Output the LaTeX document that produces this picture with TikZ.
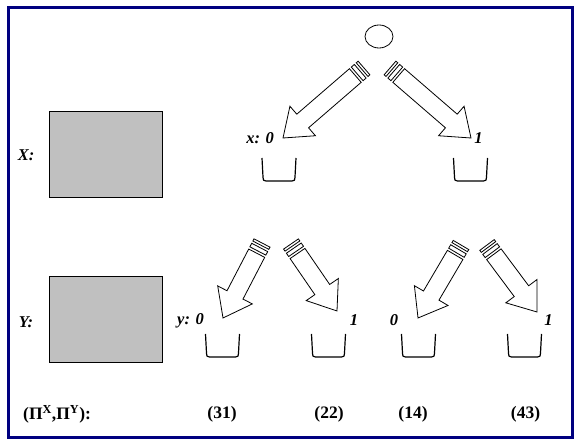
\documentclass[tikz,border=0pt]{standalone}
\usepackage{fontspec}
\setmainfont{Liberation Serif}
\usetikzlibrary{calc,shapes.geometric}

\definecolor{framenavy}{RGB}{0,0,128}
\definecolor{boxgray}{RGB}{192,192,192}

% striped block arrow from tail #1 to tip #2
\newcommand\stripearrow[2]{%
	\path let \p1=($(#2)-(#1)$) in \pgfextra{%
		\pgfmathsetmacro\arrang{atan2(\y1,\x1)}%
		\pgfmathsetmacro\arrlen{veclen(\x1,\y1)}%
		\global\let\arrang\arrang
		\global\let\arrlen\arrlen};
	\begin{scope}[shift={(#1)},rotate=\arrang]
		\draw[arrowline] (0,-\bw) rectangle (2.5,\bw);
		\draw[arrowline] (5,-\bw) rectangle (9,\bw);
		\draw[arrowline] (11.5,-\bw) -- ({\arrlen-\hl},-\bw) -- ({\arrlen-\hl},-\hw)
			-- (\arrlen,0) -- ({\arrlen-\hl},\hw) -- ({\arrlen-\hl},\bw) -- (11.5,\bw) -- cycle;
	\end{scope}}

\tikzset{
	arrowline/.style={line width=0.8pt, fill=white, line join=miter},
	rootnode/.style={draw, ellipse, line width=0.8pt, minimum width=28pt, minimum height=23pt, inner sep=0pt},
	infobox/.style={draw, fill=boxgray, line width=0.8pt, inner sep=0pt, minimum width=113pt, minimum height=86pt},
	rowlabel/.style={font=\fontsize{16.5}{19}\selectfont\bfseries\itshape},
	valuelabel/.style={font=\fontsize{16.5}{19}\selectfont\bfseries\itshape, inner sep=0pt},
	paylabel/.style={font=\fontsize{17.5}{20}\selectfont\bfseries, inner sep=0pt},
	basket/.pic={
		\draw[line width=1.2pt] (-17,0) -- (-16,19) .. controls (-15.6,22.6) .. (-13,23)
			-- (13,23) .. controls (15.6,22.6) .. (16,19) -- (17,0);
	}
}

\begin{document}
\begin{tikzpicture}[x=1pt,y=-1pt]
	\useasboundingbox (0,0) rectangle (581,443);
	
	% ---- Sizes of the arrows ----
	\def\bw{9}
	\def\hw{19.5}
	\def\hl{26}
	
	% ---- Frame ----
	\draw[framenavy, line width=3pt] (8.5,7.5) rectangle (572.5,437.5);
	
	% ---- Root and gray boxes ----
	\node[rootnode] (root) at (379,36.5) {};
	\node[infobox] (boxX) at (105.5,154) {};
	\node[infobox] (boxY) at (105.5,319.5) {};
	\node[rowlabel] (labX) at (26,155) {X:};
	\node[rowlabel] (labY) at (26,322) {Y:};
	
	% ---- Tails and tips of the arrows ----
	\foreach \name/\tx/\ty/\hx/\hy in {
		Xa/364/68/283/138,
		Xb/390/68/471/138,
		Ya/262/243/223/318,
		Yb/291/244/337/311,
		Yc/461/245/418/318,
		Yd/487/245/537/312%
	}
	{
		\coordinate (t\name) at (\tx,\ty);
		\coordinate (h\name) at (\hx,\hy);
	}
	\foreach \name in {Xa,Xb,Ya,Yb,Yc,Yd}
	\stripearrow{t\name}{h\name};
	
	% ---- Baskets ----
	\foreach \name/\cx/\cy in {
		Xa/279/158, Xb/470.5/158,
		Ya/222.5/334, Yb/328.5/334, Yc/418.5/334, Yd/524.5/334%
	}
	{
		\pic (cup\name) at (\cx,\cy) {basket};
	}
	
	% ---- Values ----
	\node[valuelabel, anchor=east] (valXa) at (274,138) {x: 0};
	\node[valuelabel] (valXb) at (478.5,138) {1};
	\node[valuelabel, anchor=east] (valYa) at (204,320.5) {y: 0};
	\node[valuelabel] (valYb) at (354,320.5) {1};
	\node[valuelabel] (valYc) at (394,320.5) {0};
	\node[valuelabel] (valYd) at (548.5,320.5) {1};
	
	% ---- Payoffs ----
	\node[paylabel, anchor=west] (payHead) at (23,414) {(Π\textsuperscript{X},Π\textsuperscript{Y}):};
	\foreach \cx/\val in {222/31, 329/22, 413/14, 525.5/43}
	\node[paylabel] (pay\val) at (\cx,414) {(\val)};
	
\end{tikzpicture}
\end{document}
